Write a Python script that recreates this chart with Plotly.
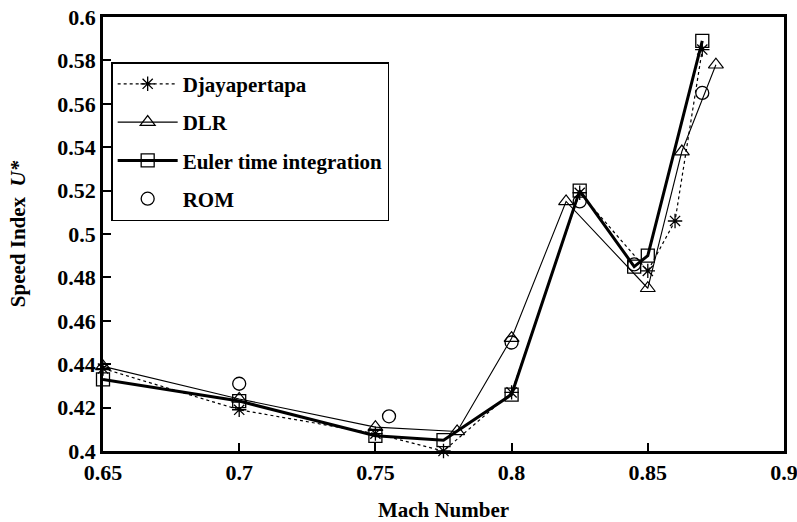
import plotly.graph_objects as go

# Speed index U* versus Mach number for four methods
djaya_mach = [0.65, 0.70, 0.75, 0.775, 0.80, 0.825, 0.85, 0.86, 0.87]
djaya_u = [0.438, 0.419, 0.408, 0.400, 0.427, 0.519, 0.483, 0.506, 0.585]

dlr_mach = [0.65, 0.70, 0.75, 0.78, 0.80, 0.82, 0.85, 0.8625, 0.875]
dlr_u = [0.439, 0.424, 0.411, 0.409, 0.452, 0.515, 0.475, 0.538, 0.578]

euler_mach = [0.65, 0.70, 0.75, 0.775, 0.80, 0.825, 0.845, 0.85, 0.87]
euler_u = [0.433, 0.423, 0.407, 0.405, 0.426, 0.520, 0.485, 0.490, 0.589]

rom_mach = [0.70, 0.755, 0.80, 0.825, 0.845, 0.87]
rom_u = [0.431, 0.416, 0.450, 0.515, 0.486, 0.565]

x_ticks = [0.65, 0.70, 0.75, 0.80, 0.85, 0.90]
x_ticklabels = ["0.65", "0.7", "0.75", "0.8", "0.85", "0.9"]
y_ticks = [0.40, 0.42, 0.44, 0.46, 0.48, 0.50, 0.52, 0.54, 0.56, 0.58, 0.60]
y_ticklabels = ["0.4", "0.42", "0.44", "0.46", "0.48", "0.5", "0.52", "0.54", "0.56", "0.58", "0.6"]

FONT = "Liberation Serif, Times New Roman, serif"

fig = go.Figure()

fig.add_trace(go.Scatter(
    x=djaya_mach, y=djaya_u, name="Djayapertapa", mode="lines+markers",
    line=dict(color="black", width=1.2, dash="dot"),
    marker=dict(symbol="asterisk-open", size=12, color="black",
                line=dict(color="black", width=1.3)),
    legendgroup="a", cliponaxis=False,
))
fig.add_trace(go.Scatter(
    x=dlr_mach, y=dlr_u, name="DLR", mode="lines+markers",
    line=dict(color="black", width=1.1),
    marker=dict(symbol="triangle-up-open", size=13, color="black",
                line=dict(color="black", width=1.2)),
    legendgroup="b", cliponaxis=False,
))
fig.add_trace(go.Scatter(
    x=euler_mach, y=euler_u, name="Euler time integration", mode="lines+markers",
    line=dict(color="black", width=3),
    marker=dict(symbol="square-open", size=13, color="black",
                line=dict(color="black", width=1.3)),
    legendgroup="c", cliponaxis=False,
))
fig.add_trace(go.Scatter(
    x=rom_mach, y=rom_u, name="ROM", mode="markers",
    marker=dict(symbol="circle-open", size=13, color="black",
                line=dict(color="black", width=1.3)),
    legendgroup="d", cliponaxis=False,
))

axis_common = dict(
    showline=True, linecolor="black", linewidth=2.5, mirror=True,
    ticks="inside", ticklen=8, tickwidth=2, tickcolor="black",
    showgrid=False, zeroline=False, automargin=False,
    ticklabeloverflow="allow",
    tickfont=dict(family=FONT, size=22, color="black", weight="bold"),
)

fig.update_xaxes(
    range=[0.65, 0.90], tickvals=x_ticks, ticktext=x_ticklabels,
    title=dict(text="Mach Number", font=dict(family=FONT, size=21, color="black", weight="bold"),
               standoff=24),
    **axis_common,
)
fig.update_yaxes(
    range=[0.40, 0.60], tickvals=y_ticks, ticktext=y_ticklabels,
    title=dict(text="Speed Index  <i>U*</i>", font=dict(family=FONT, size=21, color="black", weight="bold"),
               standoff=26),
    **axis_common,
)

fig.update_layout(
    width=797, height=522,
    margin=dict(l=103, r=13, t=17, b=71),
    paper_bgcolor="white", plot_bgcolor="white",
    showlegend=True,
    legend=dict(
        x=0.012, y=0.896, xanchor="left", yanchor="top",
        bgcolor="white", bordercolor="black", borderwidth=1.5,
        font=dict(family=FONT, size=21, color="black", weight="bold"),
        traceorder="grouped", tracegroupgap=8,
        itemwidth=60,
    ),
    font=dict(family=FONT, color="black"),
)

fig.write_html("out.html")
